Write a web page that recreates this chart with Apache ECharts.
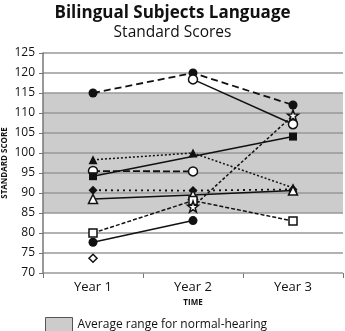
<!DOCTYPE html>
<html><head><meta charset="utf-8">
<script src="https://cdn.jsdelivr.net/npm/echarts@6/dist/echarts.min.js"></script>
<style>html,body{margin:0;padding:0;background:#fff}#c{width:345px;height:331px}</style>
</head><body><div id="c"></div>
<script>
const categories = ['Year 1', 'Year 2', 'Year 3'];
const yTicks = {min: 70, max: 125, step: 5};
const band = [85, 115];
const bandName = 'Average range for normal-hearing';
const sFilledCircleHigh = [115, 120, 112];
const sOpenCircleHigh = [null, 118.4, 107.2];
const sFilledTriangle = [98.3, 100, 91.3];
const sOpenCircleMid = [95.5, 95.4, null];
const sFilledSquare = [94.2, null, 104.1];
const sFilledDiamond = [90.7, 90.6, 90.9];
const sOpenTriangle = [88.5, 89.5, 90.6];
const sOpenSquare = [80, 88.1, 83];
const sStar = [null, 86.6, 109.4];
const sOpenDiamond = [73.7, null, null];
const sFilledCircleLow = [77.7, 83.1, null];

const star = 'path://M0,-10 L2.35,-3.24 L9.51,-3.09 L3.8,1.24 L5.88,8.09 L0,4 L-5.88,8.09 L-3.8,1.24 L-9.51,-3.09 L-2.35,-3.24 Z';
const FONT = '"Open Sans", "Noto Sans", sans-serif';

function ser(data, symbol, filled, lineType, width, size, extra) {
  return Object.assign({
    type: 'line', data: data, symbol: symbol, symbolSize: size || 7, z: 10,
    connectNulls: false,
    lineStyle: {color: '#111', width: width || 1.5, type: lineType},
    itemStyle: {color: filled ? '#111' : '#fff', borderColor: '#111', borderWidth: filled ? 0 : 1.5},
    emphasis: {disabled: true}, animation: false
  }, extra || {});
}

const chart = echarts.init(document.getElementById('c'), null, {renderer: 'canvas'});
chart.setOption({
  animation: false,
  title: [
    {text: 'Bilingual Subjects Language', left: 'center', top: 0,
     textStyle: {fontFamily: FONT, fontSize: 17, fontWeight: 'bold', color: '#111'}},
    {text: 'Standard Scores', left: 'center', top: 20,
     textStyle: {fontFamily: FONT, fontSize: 15.5, fontWeight: 'normal', color: '#111'}}
  ],
  legend: {
    data: [{name: bandName, icon: 'rect'}], left: 40, top: 312,
    itemWidth: 27, itemHeight: 14, itemGap: 8,
    itemStyle: {borderColor: '#555', borderWidth: 1},
    textStyle: {fontFamily: FONT, fontSize: 12, color: '#111'},
    selectedMode: false
  },
  grid: {left: 43, right: 2, top: 53, bottom: 58, containLabel: false, outerBoundsMode: 'none'},
  xAxis: {
    type: 'category', data: categories, boundaryGap: true,
    name: 'TIME', nameLocation: 'middle', nameGap: 26, nameMoveOverlap: false,
    nameTextStyle: {fontFamily: FONT, fontSize: 8, fontWeight: 'bold', color: '#111'},
    axisLine: {show: false},
    axisTick: {show: true, length: 5, lineStyle: {color: '#777', width: 1}},
    axisLabel: {fontFamily: FONT, fontSize: 13, color: '#111', margin: 8}
  },
  yAxis: {
    type: 'value', min: yTicks.min, max: yTicks.max, interval: yTicks.step, z: 5,
    name: 'STANDARD SCORE', nameLocation: 'middle', nameGap: 34, nameRotate: 90, nameMoveOverlap: false,
    nameTextStyle: {fontFamily: FONT, fontSize: 8, fontWeight: 'bold', color: '#111'},
    axisLine: {show: true, lineStyle: {color: '#777', width: 1.5}},
    axisTick: {show: true, length: 4, lineStyle: {color: '#777'}},
    axisLabel: {fontFamily: FONT, fontSize: 12, color: '#111', margin: 8},
    splitLine: {show: true, lineStyle: {color: '#999', width: 1.5}}
  },
  series: [
    {name: bandName, type: 'line', data: [], z: 1, itemStyle: {color: '#cccccc'},
     markArea: {silent: true, itemStyle: {color: '#cccccc'}, data: [[{yAxis: band[0]}, {yAxis: band[1]}]]}},
    ser(sFilledCircleHigh, 'circle', true, [7, 4], 1.8, 9),
    ser(sOpenCircleHigh, 'circle', false, 'solid', 1.5, 9),
    ser(sFilledTriangle, 'triangle', true, [2, 2], 1.5, 9),
    ser(sOpenCircleMid, 'circle', false, [7, 3], 1.8, 9),
    ser(sFilledSquare, 'rect', true, 'solid', 1.5, 8, {connectNulls: true}),
    ser(sFilledDiamond, 'diamond', true, [2, 4], 1.8, 9),
    ser(sOpenTriangle, 'triangle', false, 'solid', 1.5, 9),
    ser(sOpenSquare, 'rect', false, [4, 2], 1.5, 8),
    ser(sStar, star, false, [3, 2], 1.5, 11),
    ser(sOpenDiamond, 'diamond', false, 'solid', 1.5, 8),
    ser(sFilledCircleLow, 'circle', true, 'solid', 1.5, 9)
  ]
});
</script></body></html>
